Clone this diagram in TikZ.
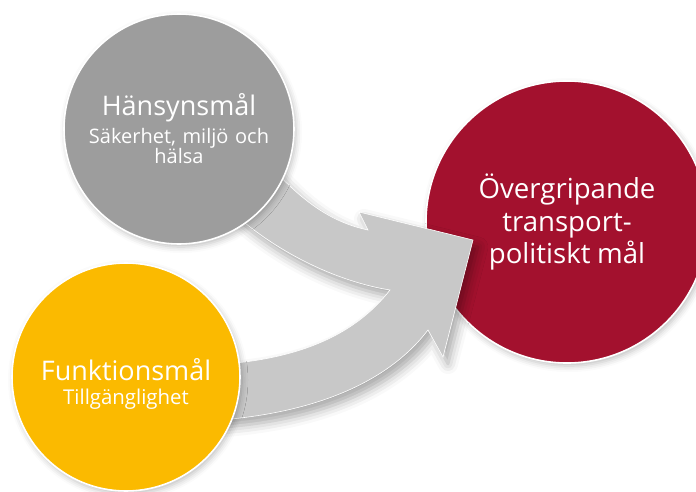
\documentclass[tikz,border=0pt]{standalone}
\usepackage{fontspec}
\setmainfont{Open Sans}
\usetikzlibrary{shadows.blur}
\definecolor{grayc}{RGB}{157,157,157}
\definecolor{yellowc}{RGB}{251,186,0}
\definecolor{redc}{RGB}{163,17,46}
\definecolor{arrowc}{RGB}{200,200,200}
\begin{document}
\begin{tikzpicture}[x=0.5pt,y=-0.5pt,
  goal/.style={circle, draw=white, line width=0.8pt, text=white, align=center,
    inner sep=0pt, font={\lineskiplimit=-30pt},
    blur shadow={shadow xshift=1pt, shadow yshift=-1.5pt, shadow blur radius=3pt, shadow opacity=25}},
  flow/.style={fill=arrowc, draw=white, line width=0.3pt,
    blur shadow={shadow xshift=2.5pt, shadow yshift=-3.5pt, shadow blur radius=5pt, shadow opacity=35}}
]
\useasboundingbox (0,0) rectangle (696,492);
% target goal
\node[goal, fill=redc, minimum size=141pt, text width=110pt] (mal) at (567,222)
  {\fontsize{13.8pt}{16.25pt}\selectfont Övergripande\\ transport-\\ politiskt mål\par};
% converging arrow
\path[flow] (265,160) .. controls (300,200) and (330,222) .. (368,230)
  -- (359,212) -- (473,240) -- (443,357) -- (428,330)
  .. controls (390,380) and (320,412) .. (220,420)
  -- (225,364) .. controls (300,358) and (355,335) .. (390,290)
  .. controls (340,282) and (280,255) .. (232,212) -- cycle;
% source goals
\node[goal, fill=grayc, minimum size=115pt, text width=105pt] (hans) at (179,129)
  {\fontsize{13.5pt}{14pt}\selectfont Hänsynsmål\par\vspace{4pt}%
   \fontsize{10pt}{10pt}\selectfont Säkerhet, miljö och\par hälsa\par};
\node[goal, fill=yellowc, minimum size=114pt, text width=100pt] (funk) at (126,377)
  {\fontsize{13.5pt}{14pt}\selectfont Funktionsmål\par\vspace{2pt}%
   \fontsize{10.2pt}{10pt}\selectfont Tillgänglighet\par\vspace{-7pt}};
\end{tikzpicture}
\end{document}
